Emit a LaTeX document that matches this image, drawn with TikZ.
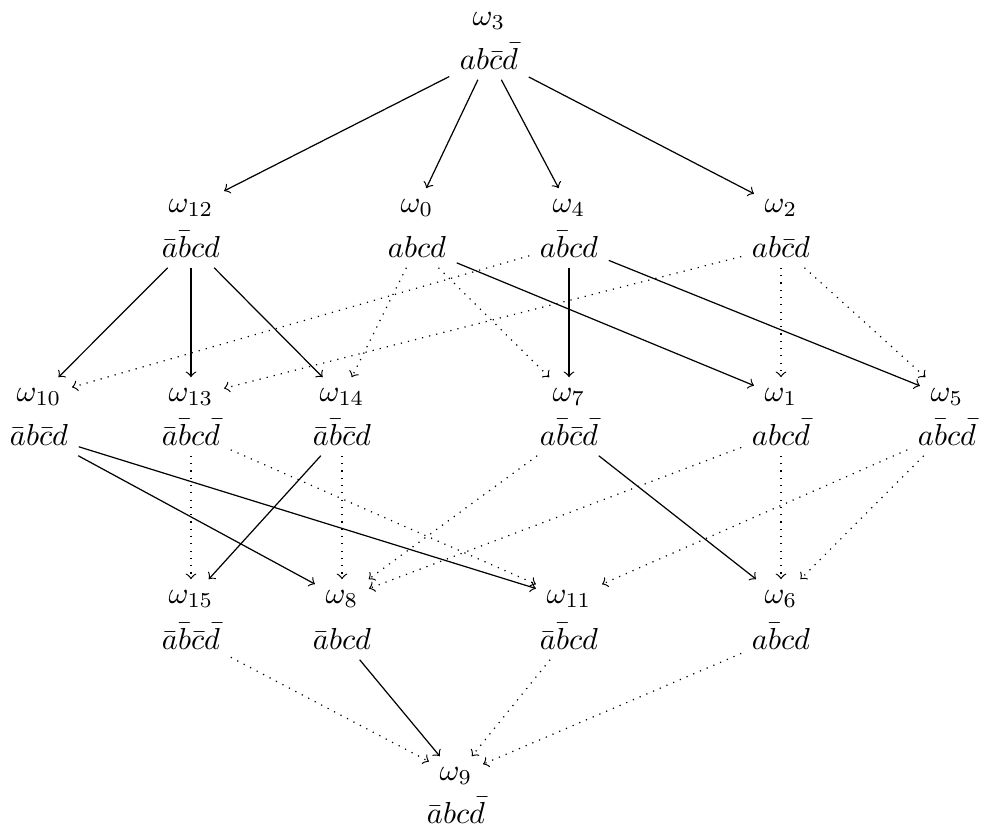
\documentclass[tikz,border=0pt]{standalone}
\begin{document}
\begin{tikzpicture}[x=0.01156cm,y=-0.01156cm,
  lab/.style={anchor=base},
  sol/.style={->},
  dotarr/.style={->,dotted}]
\useasboundingbox (0,0) rectangle (981,832);
% row 0
\node[lab] (o3) at (489,25) {$\omega_{3}$};
\node[lab] (f3) at (489,69) {$ab\bar c\bar d$};
% row 1
\node[lab] (o12) at (191,212) {$\omega_{12}$};
\node[lab] (f12) at (191,257) {$\bar a\bar bcd$};
\node[lab] (o0) at (417,212) {$\omega_{0}$};
\node[lab] (f0) at (417,257) {$abcd$};
\node[lab] (o4) at (569,212) {$\omega_{4}$};
\node[lab] (f4) at (569,257) {$a\bar bcd$};
\node[lab] (o2) at (781,212) {$\omega_{2}$};
\node[lab] (f2) at (781,257) {$ab\bar cd$};
% row 2
\node[lab] (o10) at (39,401) {$\omega_{10}$};
\node[lab] (f10) at (39,445) {$\bar ab\bar cd$};
\node[lab] (o13) at (191,401) {$\omega_{13}$};
\node[lab] (f13) at (191,445) {$\bar a\bar bc\bar d$};
\node[lab] (o14) at (342,401) {$\omega_{14}$};
\node[lab] (f14) at (342,445) {$\bar a\bar b\bar cd$};
\node[lab] (o7) at (569,401) {$\omega_{7}$};
\node[lab] (f7) at (569,445) {$a\bar b\bar c\bar d$};
\node[lab] (o1) at (781,401) {$\omega_{1}$};
\node[lab] (f1) at (781,445) {$abc\bar d$};
\node[lab] (o5) at (947,401) {$\omega_{5}$};
\node[lab] (f5) at (947,445) {$a\bar bc\bar d$};
% row 3
\node[lab] (o15) at (191,603) {$\omega_{15}$};
\node[lab] (f15) at (191,649) {$\bar a\bar b\bar c\bar d$};
\node[lab] (o8) at (342,603) {$\omega_{8}$};
\node[lab] (f8) at (342,649) {$\bar abcd$};
\node[lab] (o11) at (569,603) {$\omega_{11}$};
\node[lab] (f11) at (569,649) {$\bar a\bar bcd$};
\node[lab] (o6) at (781,603) {$\omega_{6}$};
\node[lab] (f6) at (781,649) {$a\bar bcd$};
% row 4
\node[lab] (o9) at (456,780) {$\omega_{9}$};
\node[lab] (f9) at (456,823) {$\bar abc\bar d$};
% solid arrows
\draw[sol] (f3) -- (o12);
\draw[sol] (f3) -- (o0);
\draw[sol] (f3) -- (o4);
\draw[sol] (f3) -- (o2);
\draw[sol] (f12) -- (o10);
\draw[sol] (f12) -- (o13);
\draw[sol] (f12) -- (o14);
\draw[sol] (f0) -- (o1);
\draw[sol] (f4) -- (o7);
\draw[sol] (f4) -- (o5);
\draw[sol] (f10) -- (o8);
\draw[sol] (f10) -- (o11);
\draw[sol] (f14) -- (o15);
\draw[sol] (f7) -- (o6);
\draw[sol] (f8) -- (o9);
% dotted arrows
\draw[dotarr] (f4) -- (o10);
\draw[dotarr] (f2) -- (o13);
\draw[dotarr] (f2) -- (o1);
\draw[dotarr] (f2) -- (o5);
\draw[dotarr] (f0) -- (o14);
\draw[dotarr] (f0) -- (o7);
\draw[dotarr] (f13) -- (o15);
\draw[dotarr] (f13) -- (o11);
\draw[dotarr] (f14) -- (o8);
\draw[dotarr] (f7) -- (o8);
\draw[dotarr] (f1) -- (o8);
\draw[dotarr] (f1) -- (o6);
\draw[dotarr] (f5) -- (o11);
\draw[dotarr] (f5) -- (o6);
\draw[dotarr] (f15) -- (o9);
\draw[dotarr] (f11) -- (o9);
\draw[dotarr] (f6) -- (o9);
\end{tikzpicture}
\end{document}
